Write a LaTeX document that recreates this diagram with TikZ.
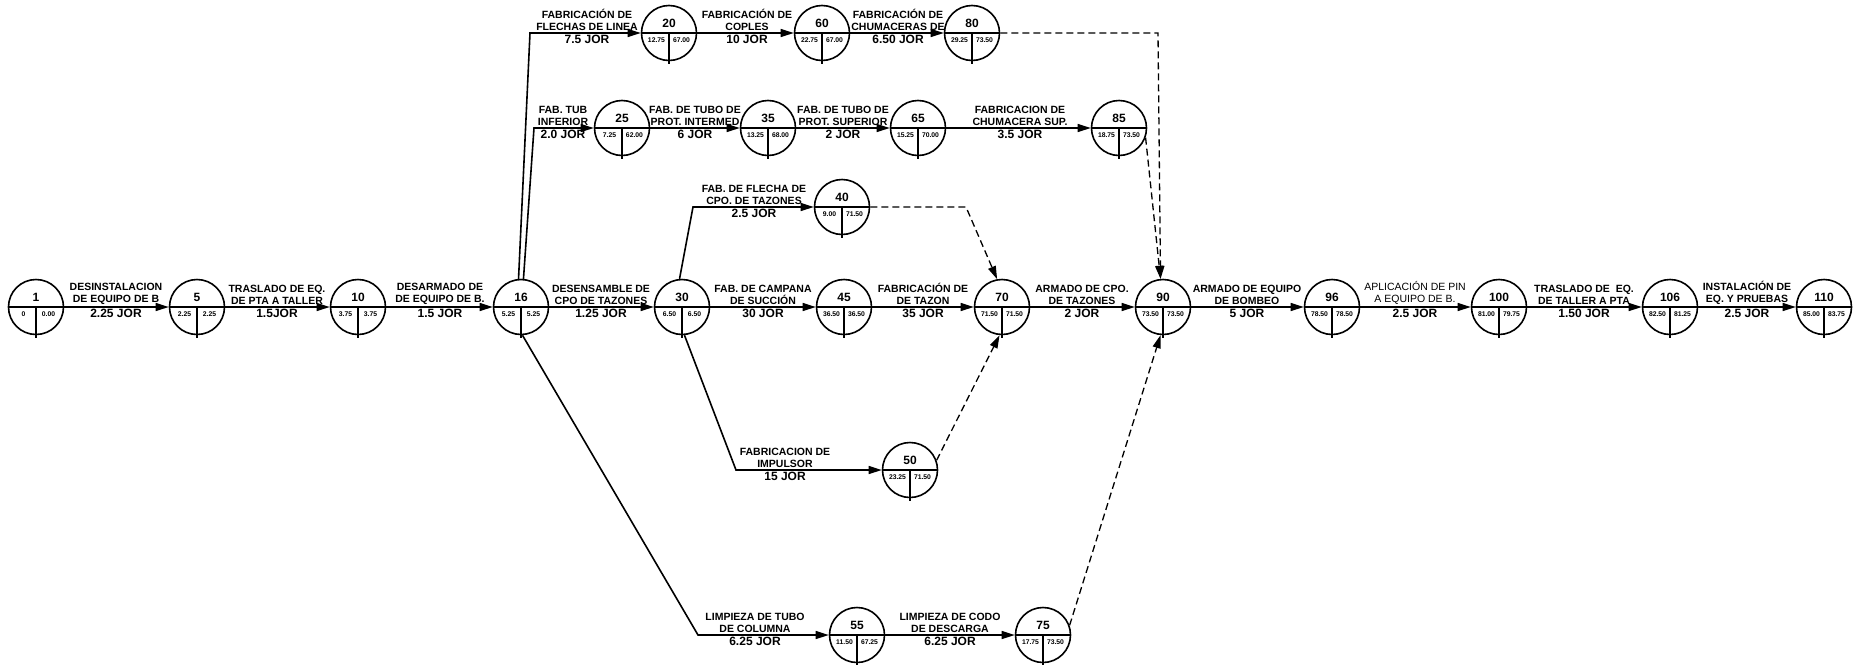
\documentclass[tikz,border=0pt]{standalone}
\usepackage{fontspec}
\setmainfont{Liberation Sans}
\usetikzlibrary{arrows.meta}
\tikzset{
 ev/.style={circle, draw, line width=1.6pt, minimum size=55pt, inner sep=0pt},
 evline/.style={line width=1.6pt},
 conn/.style={line width=1.6pt, -{Triangle[length=13pt,width=8pt]}},
 dummy/.style={line width=1.3pt, dash pattern=on 7pt off 4pt, -{Triangle[length=13pt,width=8pt]}},
 lab/.style={font=\bfseries\fontsize{10.5}{12.5}\selectfont, align=center, inner sep=0pt, anchor=south},
 labthin/.style={font=\fontsize{10.5}{12.5}\selectfont, align=center, inner sep=0pt, anchor=south},
 dur/.style={font=\bfseries\fontsize{12}{13}\selectfont, inner sep=0pt, anchor=north},
 evnum/.style={font=\bfseries\fontsize{12}{13}\selectfont, inner sep=0pt},
 evsm/.style={font=\bfseries\fontsize{6.8}{7}\selectfont, inner sep=0pt},
}
\newcommand{\cpmnode}[6]{%
 \node[ev] (#1) at (#2,#3) {};
 \draw[evline] (#1.west) -- (#1.east);
 \draw[evline] (#1.center) -- ([yshift=-3pt]#1.south);
 \node[evnum] (#1-n) at ([yshift=10pt]#1.center) {#4};
 \node[evsm] (#1-l) at ([xshift=-12.5pt,yshift=-7pt]#1.center) {#5};
 \node[evsm] (#1-r) at ([xshift=12.5pt,yshift=-7pt]#1.center) {#6};
}
\newcommand{\actlab}[6][lab]{%
 \node[#1] (#2) at (#3,#4-2) {#5};
 \node[dur] (#2-d) at (#3,#4+2) {#6};
}
\begin{document}
\begin{tikzpicture}[x=1pt,y=-1pt]
\useasboundingbox (0,0) rectangle (1855,664);
% main row
\cpmnode{n1}{36}{307}{1}{0}{0.00}
\cpmnode{n5}{197}{307}{5}{2.25}{2.25}
\cpmnode{n10}{358}{307}{10}{3.75}{3.75}
\cpmnode{n16}{521}{307}{16}{5.25}{5.25}
\cpmnode{n30}{682}{307}{30}{6.50}{6.50}
\cpmnode{n45}{844}{307}{45}{36.50}{36.50}
\cpmnode{n70}{1002}{307}{70}{71.50}{71.50}
\cpmnode{n90}{1163}{307}{90}{73.50}{73.50}
\cpmnode{n96}{1332}{307}{96}{78.50}{78.50}
\cpmnode{n100}{1499}{307}{100}{81.00}{79.75}
\cpmnode{n106}{1670}{307}{106}{82.50}{81.25}
\cpmnode{n110}{1824}{307}{110}{85.00}{83.75}
% top row
\cpmnode{n20}{669}{33}{20}{12.75}{67.00}
\cpmnode{n60}{822}{33}{60}{22.75}{67.00}
\cpmnode{n80}{972}{33}{80}{29.25}{73.50}
% second row
\cpmnode{n25}{622}{128}{25}{7.25}{62.00}
\cpmnode{n35}{768}{128}{35}{13.25}{68.00}
\cpmnode{n65}{918}{128}{65}{15.25}{70.00}
\cpmnode{n85}{1119}{128}{85}{18.75}{73.50}
% others
\cpmnode{n40}{842}{207}{40}{9.00}{71.50}
\cpmnode{n50}{910}{470}{50}{23.25}{71.50}
\cpmnode{n55}{857}{635}{55}{11.50}{67.25}
\cpmnode{n75}{1043}{635}{75}{17.75}{73.50}
% corner points
\coordinate (c20) at (530,33);
\coordinate (c25) at (534,128);
\coordinate (c40) at (693,207);
\coordinate (c50) at (736,470);
\coordinate (c55) at (698,635);
\coordinate (c80) at (1158,33);
\coordinate (c40b) at (966,207);
% main row activities
\draw[conn] (n1) -- (n5);
\draw[conn] (n5) -- (n10);
\draw[conn] (n10) -- (n16);
\draw[conn] (n16) -- (n30);
\draw[conn] (n30) -- (n45);
\draw[conn] (n45) -- (n70);
\draw[conn] (n70) -- (n90);
\draw[conn] (n90) -- (n96);
\draw[conn] (n96) -- (n100);
\draw[conn] (n100) -- (n106);
\draw[conn] (n106) -- (n110);
% branches
\draw[conn] (n16.95) -- (c20) -- (n20);
\draw[conn] (n20) -- (n60);
\draw[conn] (n60) -- (n80);
\draw[conn] (n16.85) -- (c25) -- (n25);
\draw[conn] (n25) -- (n35);
\draw[conn] (n35) -- (n65);
\draw[conn] (n65) -- (n85);
\draw[conn] (n30.95) -- (c40) -- (n40);
\draw[conn] (n30.-85) -- (c50) -- (n50);
\draw[conn] (n16.-87) -- (c55) -- (n55);
\draw[conn] (n55) -- (n75);
% dummies
\draw[dummy] (n80) -- (c80) -- (n90.95);
\draw[dummy] (n85.-20) -- (n90.95);
\draw[dummy] (n40) -- (c40b) -- (n70.100);
\draw[dummy] (n50.20) -- (n70.-95);
\draw[dummy] (n75.20) -- (n90.-95);
% labels
\actlab{a1}{116}{307}{DESINSTALACION\\DE EQUIPO DE B}{2.25 JOR}
\actlab{a2}{277}{307}{TRASLADO DE EQ.\\DE PTA A TALLER}{1.5JOR}
\actlab{a3}{440}{307}{DESARMADO DE\\DE EQUIPO DE B.}{1.5 JOR}
\actlab{a4}{601}{307}{DESENSAMBLE DE\\CPO DE TAZONES}{1.25 JOR}
\actlab{a5}{763}{307}{FAB. DE CAMPANA\\DE SUCCIÓN}{30 JOR}
\actlab{a6}{923}{307}{FABRICACIÓN DE\\DE TAZON}{35 JOR}
\actlab{a7}{1082}{307}{ARMADO DE CPO.\\DE TAZONES}{2 JOR}
\actlab{a8}{1247}{307}{ARMADO DE EQUIPO\\DE BOMBEO}{5 JOR}
\actlab[labthin]{a9}{1415}{307}{APLICACIÓN DE PIN\\A EQUIPO DE B.}{2.5 JOR}
\actlab{a10}{1584}{307}{TRASLADO DE \ EQ.\\DE TALLER A PTA}{1.50 JOR}
\actlab{a11}{1747}{307}{INSTALACIÓN DE\\EQ. Y PRUEBAS}{2.5 JOR}
\actlab{a12}{587}{33}{FABRICACIÓN DE\\FLECHAS DE LINEA}{7.5 JOR}
\actlab{a13}{747}{33}{FABRICACIÓN DE\\COPLES}{10 JOR}
\actlab{a14}{898}{33}{FABRICACIÓN DE\\CHUMACERAS DE}{6.50 JOR}
\actlab{a15}{563}{128}{FAB. TUB\\INFERIOR}{2.0 JOR}
\actlab{a16}{695}{128}{FAB. DE TUBO DE\\PROT. INTERMED}{6 JOR}
\actlab{a17}{843}{128}{FAB. DE TUBO DE\\PROT. SUPERIOR}{2 JOR}
\actlab{a18}{1020}{128}{FABRICACION DE\\CHUMACERA SUP.}{3.5 JOR}
\actlab{a19}{754}{207}{FAB. DE FLECHA DE\\CPO. DE TAZONES}{2.5 JOR}
\actlab{a20}{785}{470}{FABRICACION DE\\IMPULSOR}{15 JOR}
\actlab{a21}{755}{635}{LIMPIEZA DE TUBO\\DE COLUMNA}{6.25 JOR}
\actlab{a22}{950}{635}{LIMPIEZA DE CODO\\DE DESCARGA}{6.25 JOR}
\end{tikzpicture}
\end{document}
